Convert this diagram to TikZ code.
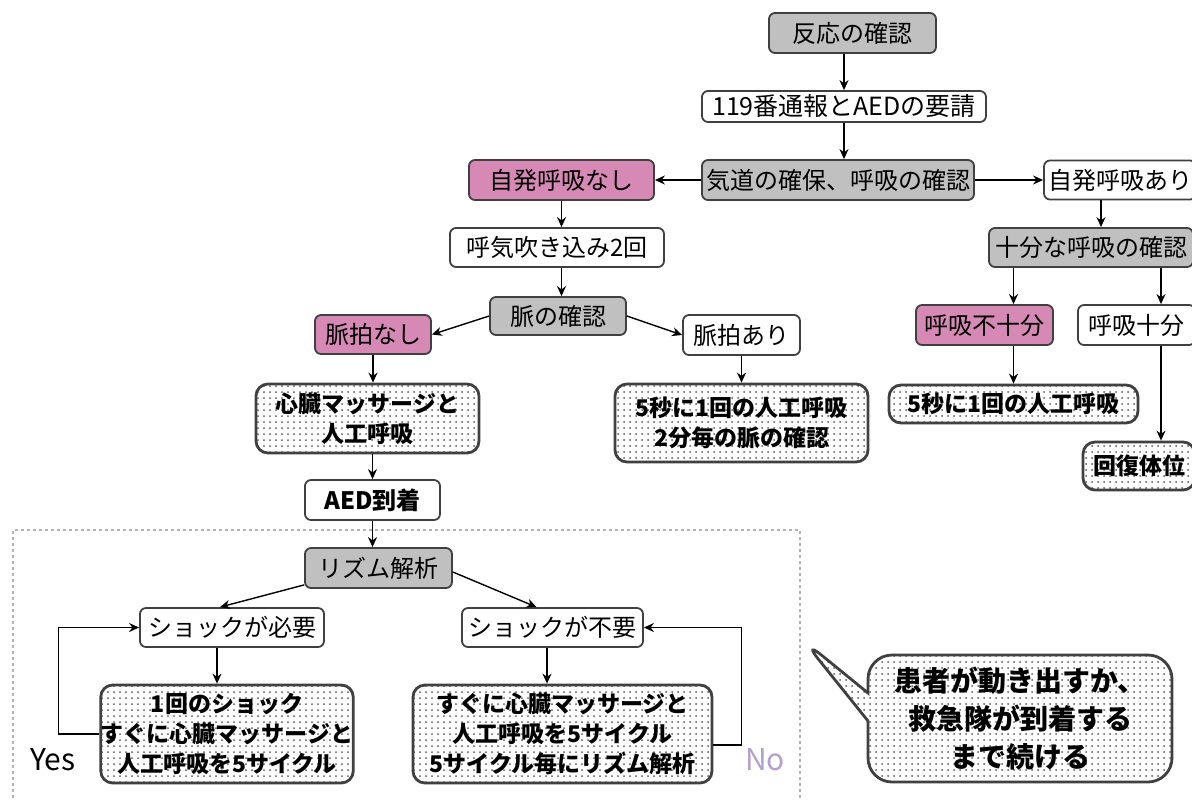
\documentclass[tikz,border=0pt]{standalone}
\usepackage{fontspec}
\setmainfont{Noto Sans CJK JP}
\usetikzlibrary{arrows.meta,patterns,shapes.callouts}
\definecolor{boxgray}{RGB}{192,192,192}
\definecolor{boxpink}{RGB}{214,137,181}
\definecolor{nolilac}{RGB}{180,160,205}

\begin{document}
\begin{tikzpicture}[x=0.5pt,y=-0.5pt,>={Stealth[length=5pt,width=4.5pt]},
    box/.style={draw=black!75,line width=0.9pt,rounded corners=3pt,inner sep=0pt,align=center,font=\fontsize{12}{14}\selectfont},
    graybox/.style={box,fill=boxgray},
    pinkbox/.style={box,fill=boxpink},
    dotbox/.style={box,line width=1.4pt,rounded corners=6pt,preaction={fill=white},pattern=dots,pattern color=black!65,font=\bfseries\fontsize{11.5}{15}\selectfont},
    link/.style={->,line width=0.7pt}]
  \clip (0,0) rectangle (1192,800);
  \node[graybox,minimum width=83.5pt,minimum height=20pt] (react) at (852.5,33) {反応の確認};
  \node[box,minimum width=142pt,minimum height=15.5pt,font=\fontsize{12.5}{14}\selectfont] (call) at (844,106.5) {119番通報とAEDの要請};
  \node[graybox,minimum width=136pt,minimum height=20pt] (airway) at (838,180) {気道の確保、呼吸の確認};
  \node[pinkbox,minimum width=92.5pt,minimum height=20pt] (nobreath) at (561.5,180) {自発呼吸なし};
  \node[box,minimum width=76pt,minimum height=19.5pt] (breath) at (1120,180) {自発呼吸あり};
  \node[box,minimum width=107pt,minimum height=19.5pt] (blow) at (557,247.5) {呼気吹き込み2回};
  \node[graybox,minimum width=68pt,minimum height=19pt] (pulse) at (558,316) {脈の確認};
  \node[pinkbox,minimum width=58pt,minimum height=19.5pt] (nopulse) at (373,334.5) {脈拍なし};
  \node[box,minimum width=58.5pt,minimum height=20pt] (yespulse) at (741.5,335) {脈拍あり};
  \node[dotbox,minimum width=111.5pt,minimum height=34.5pt] (cpr) at (367.5,418.5) {心臓マッサージと\\人工呼吸};
  \node[dotbox,minimum width=126.5pt,minimum height=39pt] (rescue) at (741.5,423) {5秒に1回の人工呼吸\\2分毎の脈の確認};
  \node[graybox,minimum width=102pt,minimum height=19.5pt] (check) at (1091,247.5) {十分な呼吸の確認};
  \node[pinkbox,minimum width=68.5pt,minimum height=20pt] (insuf) at (984.5,325) {呼吸不十分};
  \node[box,minimum width=58.5pt,minimum height=20pt] (suff) at (1136.5,325) {呼吸十分};
  \node[dotbox,minimum width=124.5pt,minimum height=19pt] (rescuetwo) at (1013.5,404) {5秒に1回の人工呼吸};
  \node[dotbox,minimum width=56pt,minimum height=24pt] (recovery) at (1139,466) {回復体位};
  \node[box,minimum width=67.5pt,minimum height=20pt,font=\bfseries\fontsize{12}{14}\selectfont] (aed) at (372.5,500) {AED到着};
  \draw[gray!60,line width=0.8pt,dash pattern=on 1.5pt off 1.5pt] (13,810) -- (13,530) -- (800,530) -- (800,810);
  \node[graybox,minimum width=73.5pt,minimum height=20pt] (rhythm) at (378.5,568) {リズム解析};
  \node[box,minimum width=92pt,minimum height=19.5pt] (needs) at (232,627.5) {ショックが必要};
  \node[box,minimum width=90.5pt,minimum height=19.5pt] (noneed) at (552.5,627.5) {ショックが不要};
  \node[dotbox,minimum width=125pt,minimum height=49pt] (once) at (227,734) {1回のショック\\すぐに心臓マッサージと\\人工呼吸を5サイクル};
  \node[dotbox,minimum width=149.5pt,minimum height=49pt] (cycle) at (562.5,734) {すぐに心臓マッサージと\\人工呼吸を5サイクル\\5サイクル毎にリズム解析};
  \node[font=\fontsize{15}{17}\selectfont] (yes) at (53,760) {Yes};
  \node[font=\fontsize{15}{17}\selectfont,text=nolilac] (no) at (765,760) {No};
  \coordinate (tip) at (803,640);
  \node[rectangle callout,callout absolute pointer=(tip),callout pointer width=14pt,draw=black!75,line width=1.4pt,rounded corners=12pt,preaction={fill=white},pattern=dots,pattern color=black!65,minimum width=152pt,minimum height=63.5pt,inner sep=0pt,align=center,font=\bfseries\fontsize{14}{19}\selectfont] (note) at (1020,718.5) {患者が動き出すか、\\救急隊が到着する\\まで続ける};
  \draw[link] (react.south -| call) -- (call.north);
  \draw[link] (call.south) -- (call.south |- airway.north);
  \draw[link] (airway.west) -- (nobreath.east);
  \draw[link] (airway.east) -- (breath.west);
  \draw[link] (nobreath.south) -- (nobreath.south |- blow.north);
  \draw[link] (blow.south -| nobreath) -- (pulse.north -| nobreath);
  \draw[link] (pulse.west) -- (nopulse.east);
  \draw[link] (pulse.east) -- (yespulse.west);
  \draw[link] (nopulse.south) -- (nopulse.south |- cpr.north);
  \draw[link] (cpr.south -| aed) -- (aed.north);
  \draw[link] (yespulse.south) -- (rescue.north);
  \draw[link] (breath.south -| 1101,0) -- (check.north -| 1101,0);
  \draw[link] (check.south -| rescuetwo) -- (insuf.north -| rescuetwo);
  \draw[link] (check.south -| 1161,0) -- (suff.north -| 1161,0);
  \draw[link] (insuf.south -| rescuetwo) -- (rescuetwo.north);
  \draw[link] (suff.south -| 1161,0) -- (recovery.north -| 1161,0);
  \draw[link] (aed.south) -- (rhythm.north -| aed);
  \draw[link] ([yshift=2pt]rhythm.south west) -- ([xshift=-6pt]needs.north);
  \draw[link] ([yshift=-2pt]rhythm.east) -- ([xshift=-8pt]noneed.north);
  \draw[link] (needs.south -| 217,0) -- (once.north -| 217,0);
  \draw[link] (noneed.south -| 547,0) -- (cycle.north -| 547,0);
  \draw[link] (once.west) -- ++(-41,0) |- (needs.west);
  \draw[link] ([yshift=-5.5pt]cycle.east) -- ++(28,0) |- (noneed.east);
\end{tikzpicture}
\end{document}
